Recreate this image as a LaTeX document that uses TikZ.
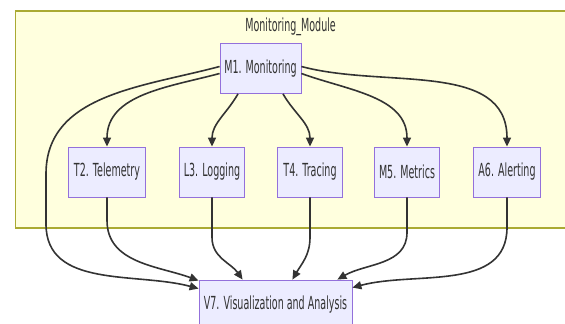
\documentclass[tikz,border=0pt]{standalone}
\usepackage{fontspec}
\setmainfont{DejaVu Sans}[FakeStretch=0.53]
\usepackage{xcolor}
\usetikzlibrary{arrows.meta}

\definecolor{nodefill}{HTML}{ECECFF}
\definecolor{nodeline}{HTML}{9370DB}
\definecolor{clusterfill}{HTML}{FFFFDE}
\definecolor{clusterline}{HTML}{AAAA33}
\definecolor{edgeline}{HTML}{333333}

\begin{document}
\begin{tikzpicture}[x=1pt,y=1pt,
    box/.style={draw=nodeline,fill=nodefill,line width=0.8pt,text=edgeline,
      minimum height=50pt,inner sep=0pt,font=\fontsize{18}{21}\selectfont},
    edge/.style={draw=edgeline,line width=1.6pt,
      -{Triangle[length=9pt,width=8pt]}},
    ]
    \useasboundingbox (0,0) rectangle (565,324);
    \fill[white] (0,0) rectangle (565,324);
    \draw[clusterline,fill=clusterfill,line width=1.4pt] (15.5,96) rectangle (567,313);
    \node[text=edgeline,font=\fontsize{18}{21}\selectfont] (title) at (290.6,297) {Monitoring\_Module};

    \node[box,minimum width=81pt] (m1) at (260.5,255.5) {M1. Monitoring};
    \node[box,minimum width=77pt] (t2) at (107,152) {T2. Telemetry};
    \node[box,minimum width=65pt] (l3) at (212,152) {L3. Logging};
    \node[box,minimum width=65pt] (t4) at (310,152) {T4. Tracing};
    \node[box,minimum width=65pt] (m5) at (407,152) {M5. Metrics};
    \node[box,minimum width=67pt] (a6) at (507,152) {A6. Alerting};
    \node[box,minimum width=153pt] (v7) at (275.5,19) {V7. Visualization and Analysis};

    \draw[edge] ([yshift=-5pt]m1.west) to[out=195,in=90] (t2.north);
    \draw[edge] ([yshift=2pt]m1.west) to[out=195,in=90] (46,150) -- (46,100)
        to[out=-90,in=165] ([yshift=-9pt]v7.north west);
    \draw[edge] ([xshift=-22.5pt]m1.south) to[out=-120,in=90] (l3.north);
    \draw[edge] ([xshift=22.5pt]m1.south) to[out=-60,in=90] (t4.north);
    \draw[edge] ([yshift=-5pt]m1.east) to[out=-20,in=90] (m5.north);
    \draw[edge] ([yshift=2pt]m1.east) to[out=-15,in=90] (a6.north);

    \draw[edge] (t2.south) -- ++(0,-23) to[out=-90,in=160] ([yshift=-1pt]v7.north west);
    \draw[edge] (l3.south) -- ++(0,-40) to[out=-90,in=125] ([xshift=44pt]v7.north west);
    \draw[edge] (t4.south) -- ++(0,-40) to[out=-90,in=60] ([xshift=-60pt]v7.north east);
    \draw[edge] (m5.south) -- ++(0,-35) to[out=-90,in=30] ([xshift=-15pt]v7.north east);
    \draw[edge] (a6.south) -- ++(0,-30) to[out=-90,in=15] ([yshift=-8pt]v7.north east);
\end{tikzpicture}
\end{document}
